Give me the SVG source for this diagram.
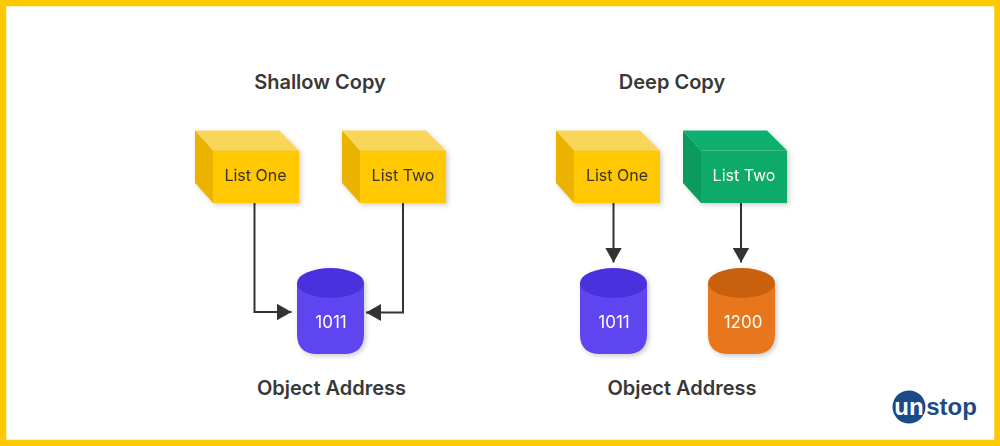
<svg xmlns="http://www.w3.org/2000/svg" width="1000" height="446" viewBox="0 0 1000 446">
<style>
text{font-family:Inter,"Noto Sans","Liberation Sans",sans-serif;text-anchor:middle}
.t{font-size:20px;font-weight:600;fill:#383838}
.l{font-size:16px;fill:#3a3426}
.w{font-size:16px;fill:#fff}
.n{font-size:17px;fill:#fff}
.b{font-size:24px;font-weight:700;font-family:"Liberation Sans",sans-serif}
.c{fill:none;stroke:#333;stroke-width:2}
.f1{fill:#FFC800}.s1{fill:#EBB300}.u1{fill:#F9D65A}
.f2{fill:#0DAA69}.s2{fill:#0B9A5E}.u2{fill:#10B06E}
.pf{fill:#5E45EF}.pt{fill:#4A32DE}
.of{fill:#E8761A}.ot{fill:#C9600E}
</style>
<defs>
<marker id="a" viewBox="0 0 15 17" refX="15" refY="8.500" markerWidth="15" markerHeight="17" markerUnits="userSpaceOnUse" orient="auto"><path d="M0 0L15 8.500L0 17Z" fill="#333"/></marker>
<filter id="sh" x="-20%" y="-20%" width="140%" height="140%"><feDropShadow dx="2" dy="2" stdDeviation="2.500" flood-color="#000" flood-opacity=".2"/></filter>
</defs>
<rect x="3" y="3" width="994.500" height="440" fill="#fff" stroke="#FFC900" stroke-width="6.500"/>
<text class="t" x="320" y="89">Shallow Copy</text>
<text class="t" x="672" y="89">Deep Copy</text>
<text class="t" x="331.500" y="395">Object Address</text>
<text class="t" x="682" y="395">Object Address</text>
<g id="connectors">
<path class="c" d="M254.500 203V312H291.500" marker-end="url(#a)"/>
<path class="c" d="M403 203V312.500H366" marker-end="url(#a)"/>
<path class="c" d="M613.500 203V262.500" marker-end="url(#a)"/>
<path class="c" d="M741 203V262.500" marker-end="url(#a)"/>
</g>
<g id="shallow-list-one" filter="url(#sh)"><path class="u1" d="M195 130.500H279L299 150.500H213Z"/><path class="s1" d="M195 130.500L213 150.500V203L195 183Z"/><rect class="f1" x="213" y="150.500" width="86" height="52.500"/><text class="l" x="255.500" y="181">List One</text></g>
<g id="shallow-list-two" filter="url(#sh)"><path class="u1" d="M342 130.500H426L446 150.500H360Z"/><path class="s1" d="M342 130.500L360 150.500V203L342 183Z"/><rect class="f1" x="360" y="150.500" width="86" height="52.500"/><text class="l" x="403" y="181">List Two</text></g>
<g id="deep-list-one" filter="url(#sh)"><path class="u1" d="M556 130.500H640L660 150.500H574Z"/><path class="s1" d="M556 130.500L574 150.500V203L556 183Z"/><rect class="f1" x="574" y="150.500" width="86" height="52.500"/><text class="l" x="617" y="181">List One</text></g>
<g id="deep-list-two" filter="url(#sh)"><path class="u2" d="M683 130.500H767L787 150.500H701Z"/><path class="s2" d="M683 130.500L701 150.500V203L683 183Z"/><rect class="f2" x="701" y="150.500" width="86" height="52.500"/><text class="w" x="744" y="181">List Two</text></g>
<g id="shallow-object" filter="url(#sh)"><path class="pf" d="M297 283V334Q297 354 317 354H344Q364 354 364 334V283Z"/><ellipse class="pt" cx="330.500" cy="283" rx="33.500" ry="15"/><text class="n" x="331" y="328">1011</text></g>
<g id="deep-object-one" filter="url(#sh)"><path class="pf" d="M580 283V334Q580 354 600 354H627Q647 354 647 334V283Z"/><ellipse class="pt" cx="613.500" cy="283" rx="33.500" ry="15"/><text class="n" x="614" y="328">1011</text></g>
<g id="deep-object-two" filter="url(#sh)"><path class="of" d="M708 283V334Q708 354 728 354H755Q775 354 775 334V283Z"/><ellipse class="ot" cx="741.500" cy="283" rx="33.500" ry="15"/><text class="n" x="743" y="328">1200</text></g>
<g id="logo"><circle cx="909" cy="407" r="16.500" fill="#1B4A87"/><text class="b" x="909" y="415" fill="#fff">un</text><text class="b" x="951.500" y="415" fill="#1B4A87">stop</text></g>
</svg>
